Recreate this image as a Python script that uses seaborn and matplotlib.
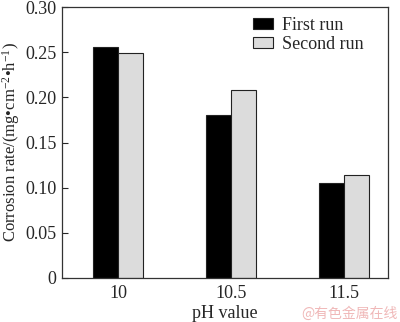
import matplotlib
matplotlib.use("Agg")
import matplotlib.pyplot as plt
import seaborn as sns
import pandas as pd

ph_labels = ["10", "10.5", "11.5"]
first_run = [0.256, 0.180, 0.105]
second_run = [0.249, 0.208, 0.114]
series_names = ["First run", "Second run"]
y_ticks = [0, 0.05, 0.10, 0.15, 0.20, 0.25, 0.30]
y_tick_labels = ["0", "0.05", "0.10", "0.15", "0.20", "0.25", "0.30"]

df = pd.DataFrame({
    "pH": ph_labels * 2,
    "rate": first_run + second_run,
    "run": [series_names[0]] * 3 + [series_names[1]] * 3,
})

sns.set_style("ticks")
SERIF = "Liberation Serif"
plt.rcParams["font.family"] = [SERIF, "DejaVu Serif"]
plt.rcParams["mathtext.fontset"] = "custom"
plt.rcParams["mathtext.rm"] = SERIF
plt.rcParams["mathtext.it"] = SERIF + ":italic"
plt.rcParams["mathtext.bf"] = SERIF + ":bold"

fig = plt.figure(figsize=(4.0, 3.22), dpi=100)
ax = fig.add_axes([62 / 400, 1 - 278 / 322, 326 / 400, 271 / 322])

sns.barplot(data=df, x="pH", y="rate", hue="run", order=ph_labels,
            hue_order=series_names, palette=["#000000", "#dcdcdc"],
            width=0.44, edgecolor="#222222", linewidth=0.8, ax=ax,
            saturation=1)

ax.set_xlim(-0.496, 2.39)
ax.set_ylim(0, 0.30)
ax.set_yticks(y_ticks)
ax.set_yticklabels(y_tick_labels, fontfamily=SERIF)
ax.set_xticks(range(len(ph_labels)))
ax.set_xticklabels(ph_labels, fontfamily=SERIF)
ax.tick_params(axis="y", direction="in", length=4, labelsize=13, pad=4)
ax.tick_params(axis="x", length=0, labelsize=13, pad=5)
for s in ax.spines.values():
    s.set_linewidth(0.9)
    s.set_color("#333333")

ax.set_xlabel("pH value", fontsize=13, labelpad=2, fontfamily=SERIF)
ax.set_ylabel("Corrosion rate/(mg\u2022cm$^{-2}$\u2022h$^{-1}$)",
              fontsize=12, labelpad=2, fontfamily=SERIF)

leg = ax.legend(loc="upper right", bbox_to_anchor=(0.965, 1.01), frameon=False,
                prop={"family": SERIF, "size": 13}, handlelength=1.1,
                handleheight=0.6, handletextpad=0.5, labelspacing=0.1,
                borderaxespad=0.3)

fig.text(0.995, 0.005, "@有色金属在线", ha="right", va="bottom",
         fontsize=10, color="#f0b8b8", family=["Noto Sans CJK SC", "DejaVu Sans"])

fig.savefig("out.png", dpi=100)
